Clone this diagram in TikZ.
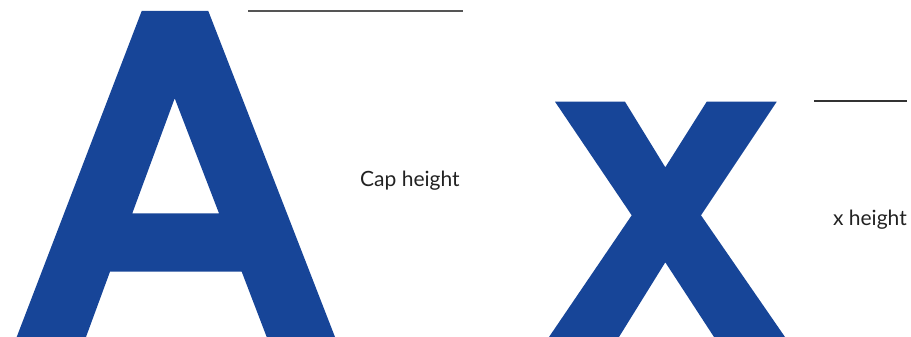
\documentclass[tikz,border=0pt]{standalone}
\usepackage{fontspec}
\setmainfont{Lato}
\definecolor{glyphblue}{HTML}{174598}
\definecolor{txt}{HTML}{222222}
\definecolor{rule1}{HTML}{555555}
\definecolor{rule2}{HTML}{333333}
\tikzset{
  glyph/.style={fill=glyphblue, draw=none, even odd rule},
  refline/.style={line width=1.1pt},
  label/.style={text=txt, inner sep=0pt, font=\fontsize{21}{24}\selectfont}
}
\begin{document}
\begin{tikzpicture}[x=1pt,y=-1pt]
\useasboundingbox (0,0) rectangle (911,337);
% letter A
\fill[glyph] (16.7,337) -- (141.7,11) -- (208.3,11) -- (335,337) -- (266.7,337)
  -- (241.7,271.7) -- (110,271.7) -- (86,337) -- cycle
  (132.3,213.3) -- (174.7,98.3) -- (219,213.3) -- cycle;
% letter x
\fill[glyph] (555,101.7) -- (625,101.7) -- (665.3,167.3) -- (706.7,101.7) -- (776.7,101.7)
  -- (701,215.3) -- (785,337) -- (714,337) -- (665.3,262.3) -- (619,337) -- (549,337)
  -- (631.7,215.3) -- cycle;
% reference lines
\draw[refline, draw=rule1] (248.3,11) -- (463.3,11);
\draw[refline, draw=rule2] (814,101) -- (907,101);
% labels
\node[label, anchor=base west] (cap) at (360,186.5) {Cap height};
\node[label, anchor=base east] (xh) at (907,225.5) {x height};
\end{tikzpicture}
\end{document}
